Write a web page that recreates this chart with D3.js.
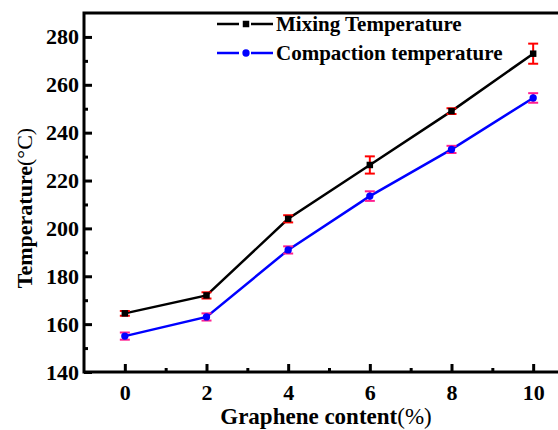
<!DOCTYPE html>
<html>
<head>
<meta charset="utf-8">
<script src="https://cdn.jsdelivr.net/npm/d3@7"></script>
<style>
  body { margin: 0; background: #fff; }
</style>
</head>
<body>
<svg id="chart" font-family="Times New Roman, serif"></svg>
<script>
// graphene content (%)
const content = [0, 2, 4, 6, 8, 10];
// mixing temperature and its error (°C)
const mixing = [164.5, 172, 204, 226.5, 249, 273];
const mixingErr = [1, 1.3, 1.5, 3.6, 1.2, 4.2];
// compaction temperature and its error (°C)
const compaction = [155, 163, 191, 213.5, 233, 254.5];
const compactionErr = [1.5, 1.5, 1.5, 2, 1.5, 2];

const yTicks = [140, 160, 180, 200, 220, 240, 260, 280];
const yMinor = [150, 170, 190, 210, 230, 250, 270];
const xTicks = [0, 2, 4, 6, 8, 10];
const xMinor = [1, 3, 5, 7, 9];

const series = [
  { name: 'Mixing Temperature', values: mixing, err: mixingErr, color: '#000', errColor: '#ff0000', marker: 'square' },
  { name: 'Compaction temperature', values: compaction, err: compactionErr, color: '#0000ff', errColor: '#ff1f8f', marker: 'circle' }
];

const W = 558, H = 430;
const margin = { top: 13, left: 84 };
const plotW = 490, plotH = 359;
const FONT = 'Times New Roman, serif';

const svg = d3.select('#chart').attr('width', W).attr('height', H);
const chart = svg.append('g').attr('transform', `translate(${margin.left},${margin.top})`);

const x = d3.scaleLinear().domain([-1, 11]).range([0, plotW]);
const y = d3.scaleLinear().domain([140, 290]).range([plotH, 0]);

// Axes with inward ticks
function styleAxis(g) {
  g.select('.domain').remove();
  g.attr('font-family', FONT).attr('font-size', 22).attr('font-weight', 'bold');
  g.selectAll('line').attr('stroke', '#000').attr('stroke-width', 3);
  g.selectAll('text').attr('fill', '#000');
}

chart.append('g')
  .attr('transform', `translate(0,${plotH})`)
  .call(d3.axisBottom(x).tickValues(xTicks).tickSize(-8).tickPadding(12).tickFormat(d3.format('d')))
  .call(styleAxis);
chart.append('g')
  .attr('transform', `translate(0,${plotH})`)
  .call(d3.axisBottom(x).tickValues(xMinor).tickSize(-4).tickFormat(''))
  .call(styleAxis);

chart.append('g')
  .call(d3.axisLeft(y).tickValues(yTicks).tickSize(-8).tickPadding(5))
  .call(styleAxis);
chart.append('g')
  .call(d3.axisLeft(y).tickValues(yMinor).tickSize(-4).tickFormat(''))
  .call(styleAxis);

// frame
chart.append('rect')
  .attr('width', plotW).attr('height', plotH)
  .attr('fill', 'none').attr('stroke', '#000').attr('stroke-width', 3);

// lines
const line = d3.line().x((d, i) => x(content[i])).y(d => y(d));
series.forEach(s => {
  chart.append('path')
    .datum(s.values)
    .attr('fill', 'none')
    .attr('stroke', s.color)
    .attr('stroke-width', 2.5)
    .attr('d', line);
});

// error bars
series.forEach(s => {
  const g = chart.append('g').attr('stroke', s.errColor).attr('stroke-width', 2);
  s.values.forEach((v, i) => {
    const cx = x(content[i]);
    const y0 = y(v - s.err[i]), y1 = y(v + s.err[i]);
    g.append('line').attr('x1', cx).attr('x2', cx).attr('y1', y0).attr('y2', y1);
    g.append('line').attr('x1', cx - 5).attr('x2', cx + 5).attr('y1', y0).attr('y2', y0);
    g.append('line').attr('x1', cx - 5).attr('x2', cx + 5).attr('y1', y1).attr('y2', y1);
  });
});

// markers
series.forEach(s => {
  const sym = d3.symbol().type(s.marker === 'square' ? d3.symbolSquare : d3.symbolCircle).size(42);
  chart.append('g').selectAll('path')
    .data(s.values)
    .join('path')
    .attr('transform', (d, i) => `translate(${x(content[i])},${y(d)})`)
    .attr('d', sym)
    .attr('fill', s.color);
});

// legend
const legend = svg.append('g').attr('transform', 'translate(217,0)');
series.forEach((s, i) => {
  const ly = 24 + i * 29;
  const g = legend.append('g').attr('transform', `translate(0,${ly})`);
  g.append('line').attr('x1', 0).attr('x2', 22).attr('stroke', s.color).attr('stroke-width', 2.5);
  g.append('line').attr('x1', 34).attr('x2', 56).attr('stroke', s.color).attr('stroke-width', 2.5);
  g.append('path')
    .attr('transform', 'translate(29,0)')
    .attr('d', d3.symbol().type(s.marker === 'square' ? d3.symbolSquare : d3.symbolCircle).size(42))
    .attr('fill', s.color);
  g.append('text')
    .attr('x', 59).attr('dy', '0.35em')
    .attr('font-family', FONT).attr('font-size', 21).attr('font-weight', 'bold')
    .text(s.name);
});

// axis titles
const xt = svg.append('text')
  .attr('x', 326).attr('y', 424)
  .attr('text-anchor', 'middle')
  .attr('font-family', FONT).attr('font-size', 23).attr('font-weight', 'bold');
xt.append('tspan').text('Graphene content');
xt.append('tspan').attr('font-weight', 'normal').text('(%)');

const yt = svg.append('text')
  .attr('transform', 'translate(32,208) rotate(-90)')
  .attr('text-anchor', 'middle')
  .attr('font-family', FONT).attr('font-size', 22).attr('font-weight', 'bold');
yt.append('tspan').text('Temperature');
yt.append('tspan').attr('font-weight', 'normal').text('(°C)');
</script>
</body>
</html>
